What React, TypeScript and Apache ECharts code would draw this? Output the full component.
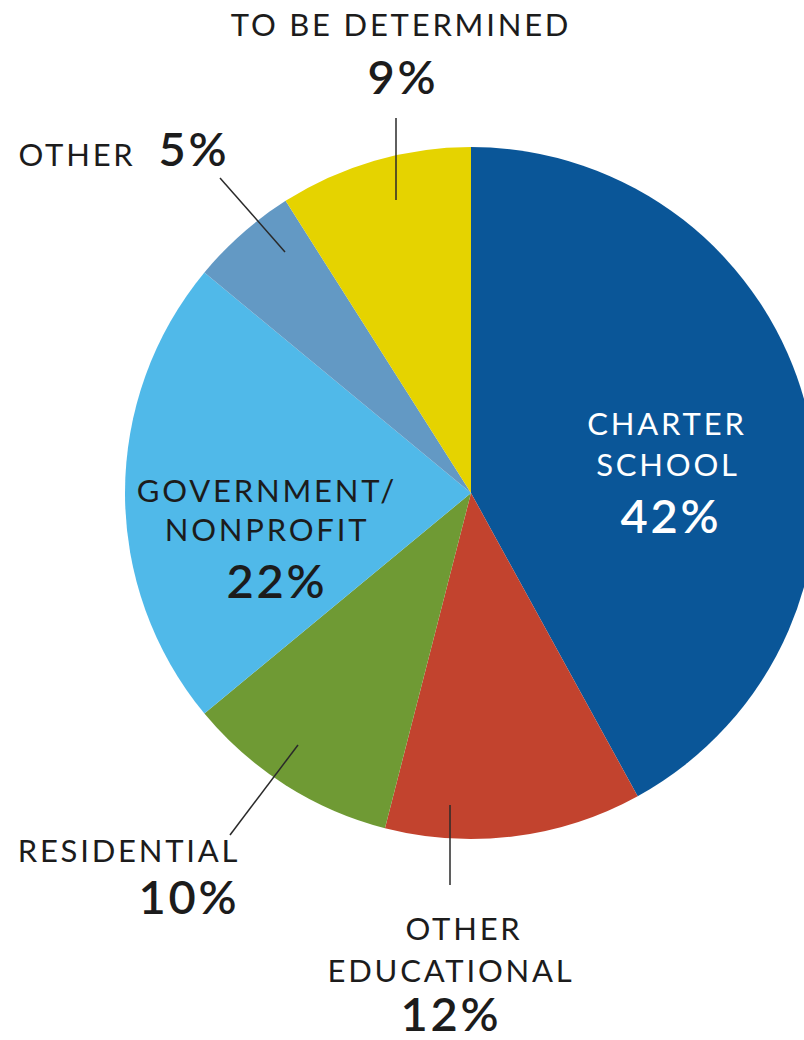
import React, { useEffect, useRef } from "react";
import * as echarts from "echarts";

// ---- data ----
const categories = [
  "CHARTER SCHOOL",
  "OTHER EDUCATIONAL",
  "RESIDENTIAL",
  "GOVERNMENT/NONPROFIT",
  "OTHER",
  "TO BE DETERMINED",
];
const values = [42, 12, 10, 22, 5, 9];
const colors = ["#0a5698", "#c2432e", "#6f9a34", "#50b9e9", "#6399c4", "#e5d300"];

// label line breaks per category (text only)
const labelLines: string[][] = [
  ["CHARTER", "SCHOOL"],
  ["OTHER", "EDUCATIONAL"],
  ["RESIDENTIAL"],
  ["GOVERNMENT/", "NONPROFIT"],
  ["OTHER"],
  ["TO BE DETERMINED"],
];

// ---- layout (positions / styles) ----
const FONT = "Lato, 'Noto Sans', sans-serif";
const NAME_SIZE = 31;
const PCT_SIZE = 47;
const DARK = "#1c1c1c";

type Layout = {
  lines: [number, number][]; // centers of name lines
  pct: [number, number];
  color: string;
  leader?: [number, number, number, number];
};

const layouts: Layout[] = [
  { lines: [[667, 423], [668, 464]], pct: [671, 515], color: "#ffffff" },
  { lines: [[464, 928], [451, 970]], pct: [451, 1013], color: DARK, leader: [450, 805, 450, 885] },
  { lines: [[129, 850]], pct: [189, 896], color: DARK, leader: [298, 745, 230, 835] },
  { lines: [[267, 490], [267, 529]], pct: [277, 580], color: DARK },
  { lines: [[77, 154]], pct: [194, 148], color: DARK, leader: [285, 252, 220, 178] },
  { lines: [[401, 24]], pct: [403, 76], color: DARK, leader: [396, 200, 396, 118] },
];

export default function App() {
  const ref = useRef<HTMLDivElement>(null);

  useEffect(() => {
    if (!ref.current) return;
    const chart = echarts.init(ref.current, undefined, { renderer: "svg" });

    const graphics: any[] = [];
    categories.forEach((_, i) => {
      const L = layouts[i];
      if (L.leader) {
        const [x1, y1, x2, y2] = L.leader;
        graphics.push({
          type: "line",
          shape: { x1, y1, x2, y2 },
          style: { stroke: "#2a2a2a", lineWidth: 1.5 },
          z: 10,
        });
      }
      labelLines[i].forEach((t, k) => {
        const [x, y] = L.lines[k];
        graphics.push({
          type: "text",
          x,
          y,
          z: 11,
          style: {
            text: t,
            fill: L.color,
            font: `400 ${NAME_SIZE}px ${FONT}`,
            textAlign: "center",
            textVerticalAlign: "middle",
          },
        });
      });
      graphics.push({
        type: "text",
        x: L.pct[0],
        y: L.pct[1],
        z: 11,
        style: {
          text: `${values[i]}%`,
          fill: L.color,
          font: `600 ${PCT_SIZE}px ${FONT}`,
          textAlign: "center",
          textVerticalAlign: "middle",
        },
      });
    });

    chart.setOption({
      animation: false,
      backgroundColor: "#ffffff",
      series: [
        {
          type: "pie",
          center: [471, 493],
          radius: 346,
          startAngle: 90,
          clockwise: true,
          label: { show: false },
          labelLine: { show: false },
          emphasis: { disabled: true },
          itemStyle: { borderWidth: 0 },
          data: categories.map((name, i) => ({
            name,
            value: values[i],
            itemStyle: { color: colors[i] },
          })),
        },
      ],
      graphic: graphics,
    });

    return () => chart.dispose();
  }, []);

  return (
    <>
      <style>{`.pie-chart svg text { letter-spacing: 2.8px; }`}</style>
      <div
        ref={ref}
        className="pie-chart"
        style={{ position: "fixed", left: 0, top: 0, width: 804, height: 1040 }}
      />
    </>
  );
}
